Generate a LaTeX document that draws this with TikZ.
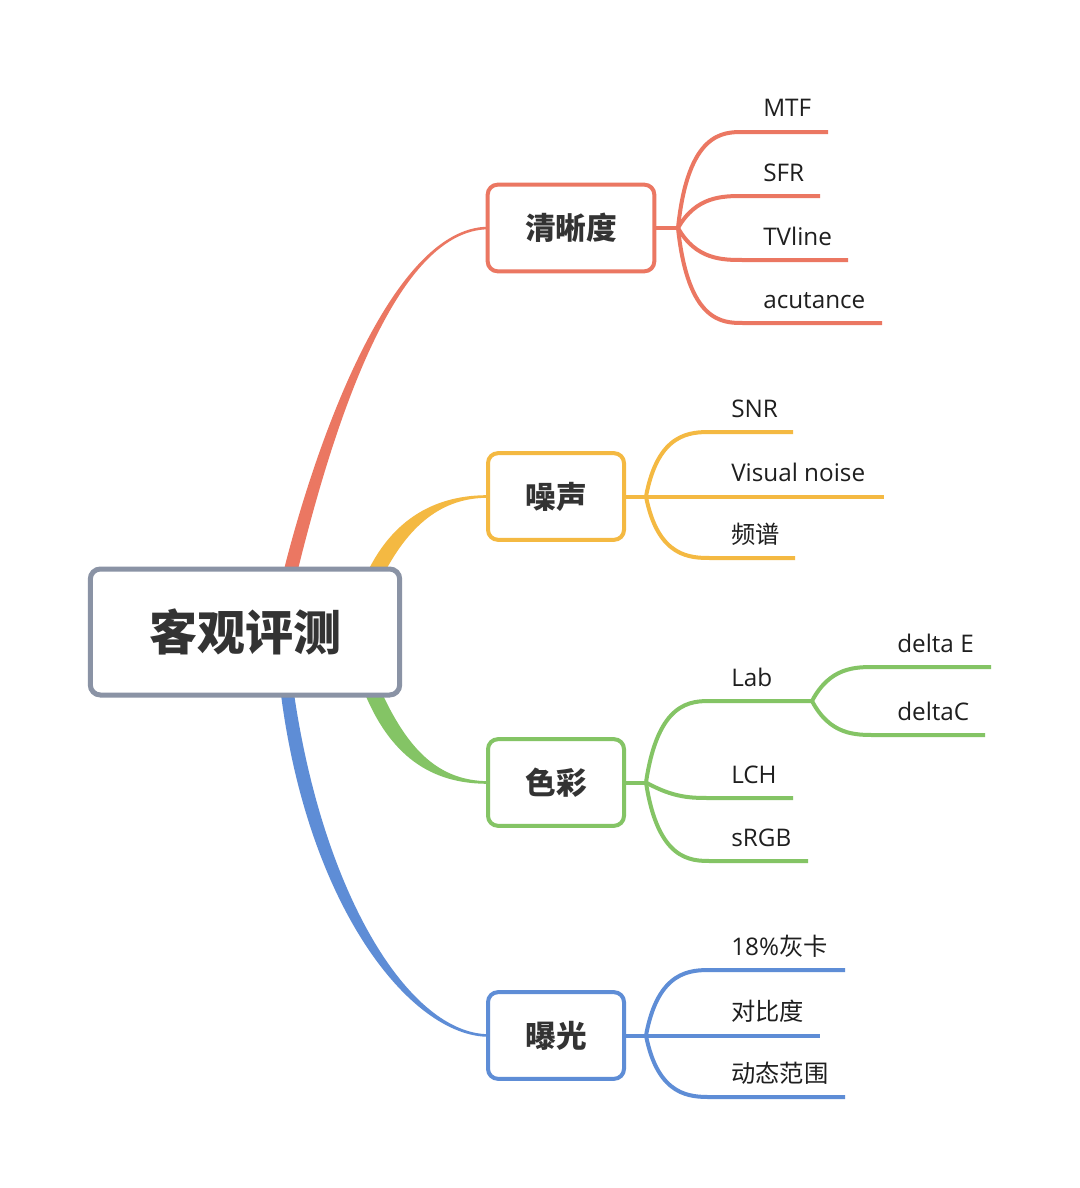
\documentclass[tikz,border=0pt]{standalone}
\usepackage{fontspec}
\setmainfont{Open Sans}
\newfontfamily\cjk{Noto Sans CJK SC}
\usetikzlibrary{calc,backgrounds}
\definecolor{mapred}{HTML}{EB7762}
\definecolor{mapyellow}{HTML}{F4B942}
\definecolor{mapgreen}{HTML}{84C465}
\definecolor{mapblue}{HTML}{5E8DD6}
\definecolor{mapgrey}{HTML}{8A93A5}
\definecolor{maptext}{HTML}{333333}
\tikzset{
  rootbox/.style={rectangle,rounded corners=7.5pt,draw=mapgrey,line width=3.75pt,fill=white,
                  minimum width=232pt,minimum height=94.5pt,text=maptext,
                  font=\cjk\bfseries\fontsize{36}{40}\selectfont},
  topic/.style  ={rectangle,rounded corners=7.5pt,line width=3pt,fill=white,
                  minimum width=102pt,minimum height=65pt,text=maptext,
                  font=\cjk\bfseries\fontsize{23}{26}\selectfont},
  leaf/.style   ={anchor=base west,inner sep=0pt,text=black!88,font=\fontsize{18.2}{22}\selectfont},
  twig/.style   ={line width=3pt},
}

\begin{document}
\begin{tikzpicture}[x=0.75pt,y=-0.75pt]
  \useasboundingbox (0,0) rectangle (1080,1188);
  % centre and main topics
  \node[rootbox] (root) at (245,632) {客观评测};
  \node[topic,draw=mapred,minimum width=125pt] (sharp) at (571,228) {清晰度};
  \node[topic,draw=mapyellow] (noise) at (556,496.5) {噪声};
  \node[topic,draw=mapgreen] (color) at (556,782.5) {色彩};
  \node[topic,draw=mapblue] (expo) at (556,1035.5) {曝光};
  % tapered main branches, under the boxes
  \begin{scope}[on background layer]
    \fill[white] (0,0) rectangle (1080,1188);
    \fill[mapred] ($(root.north)+(36,15)$) .. controls (313,450) and (390,226.5) ..
                  ($(sharp.west)+(3,-1.3)$) -- ($(sharp.west)+(3,1.3)$)
                  .. controls (390,229.5) and (327,450) .. ($(root.north)+(50,15)$) -- cycle;
    \fill[mapyellow] ($(root.north)+(119,13)$) .. controls (392,515) and (440,494.7) ..
                  ($(noise.west)+(3,-1.3)$) -- ($(noise.west)+(3,1.3)$)
                  .. controls (442,497.3) and (408,525) .. ($(root.north)+(136,13)$) -- cycle;
    \fill[mapgreen] ($(root.south)+(134,-11)$) .. controls (408,752) and (440,781) ..
                  ($(color.west)+(3,-1.3)$) -- ($(color.west)+(3,1.3)$)
                  .. controls (440,784) and (392,765) .. ($(root.south)+(117,-11)$) -- cycle;
    \fill[mapblue] ($(root.south)+(35,-11)$) .. controls (306,905) and (410,1036.8) ..
                  ($(expo.west)+(3,1.3)$) -- ($(expo.west)+(3,-1.3)$)
                  .. controls (410,1034.2) and (322,895) .. ($(root.south)+(48,-11)$) -- cycle;
  \end{scope}
  % junctions
  \coordinate (jS) at (678,228);
  \coordinate (jN) at (646,496.5);
  \coordinate (jC) at (646,782.5);
  \coordinate (jE) at (646,1035.5);
  \coordinate (jL) at (812,701);
  \draw[twig,mapred] (sharp.east) -- (jS);
  \draw[twig,mapyellow] (noise.east) -- (jN);
  \draw[twig,mapgreen] (color.east) -- (jC);
  \draw[twig,mapblue] (expo.east) -- (jE);
  % leaves
  \foreach \txt/\y/\xe/\a [count=\i] in {MTF/132/828/10,SFR/196/820/18,TVline/260/848/18,acutance/323/882/10}{
    \node[leaf] (sharp-\i) at (763,\y-15) {\txt};
    \draw[twig,mapred] (jS) .. controls (678+\a,\y) and (723,\y) .. (743,\y) -- (\xe,\y);
  }
  \foreach \txt/\y/\xe/\a [count=\i] in {SNR/432/793/12,Visual noise/496.5/884/12,{\cjk 频谱}/558/795/12}{
    \node[leaf] (noise-\i) at (731,\y-15) {\txt};
    \draw[twig,mapyellow] (jN) .. controls (646+\a,\y) and (691,\y) .. (711,\y) -- (\xe,\y);
  }
  \node[leaf] (lab) at (731,686) {Lab};
  \draw[twig,mapgreen] (jC) .. controls (658,701) and (691,701) .. (711,701) -- (jL);
  \foreach \txt/\y/\xe/\a [count=\i] in {LCH/798/793/28,sRGB/861/808/12}{
    \node[leaf] (color-\i) at (731,\y-15) {\txt};
    \draw[twig,mapgreen] (jC) .. controls (646+\a,\y) and (691,\y) .. (711,\y) -- (\xe,\y);
  }
  \foreach \txt/\y/\xe [count=\i] in {delta E/667/991,deltaC/735/985}{
    \node[leaf] (lab-\i) at (897,\y-15) {\txt};
    \draw[twig,mapgreen] (jL) .. controls (830,\y) and (855,\y) .. (875,\y) -- (\xe,\y);
  }
  \foreach \txt/\y/\xe/\a [count=\i] in {18\%{\cjk 灰卡}/970/845/12,{\cjk 对比度}/1035.5/820/12,{\cjk 动态范围}/1097/845/12}{
    \node[leaf] (expo-\i) at (731,\y-15) {\txt};
    \draw[twig,mapblue] (jE) .. controls (646+\a,\y) and (691,\y) .. (711,\y) -- (\xe,\y);
  }
\end{tikzpicture}
\end{document}
